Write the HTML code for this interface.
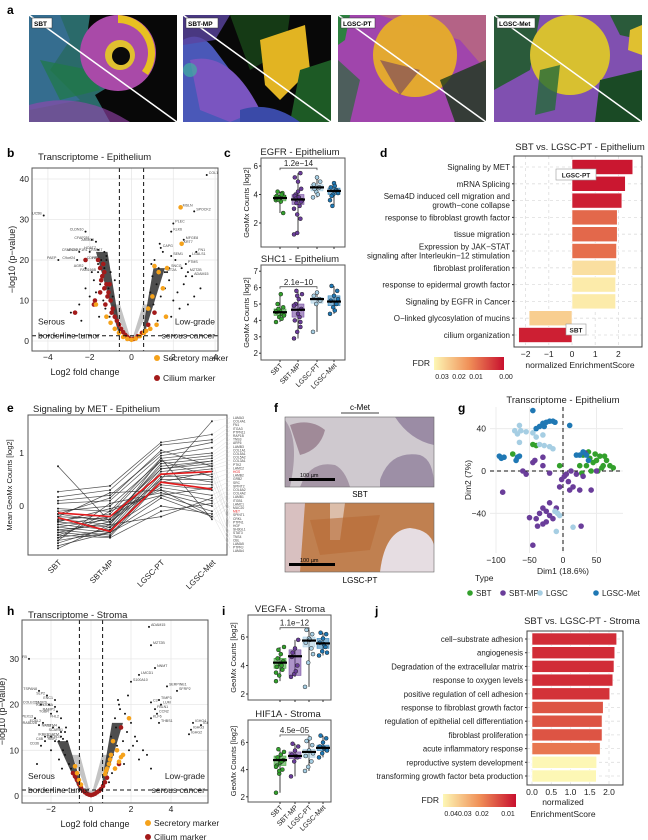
<!DOCTYPE html>
<html><head><meta charset="utf-8">
<style>
html,body{margin:0;padding:0;background:#fff;}
svg{display:block;font-family:"Liberation Sans",Arial,sans-serif;}
</style></head>
<body>
<svg id="fig" width="648" height="840" viewBox="0 0 648 840" xmlns="http://www.w3.org/2000/svg">
<defs>
<linearGradient id="fdrD" x1="0" x2="1" y1="0" y2="0"><stop offset="0" stop-color="#fdf7b5"/><stop offset="0.5" stop-color="#f09058"/><stop offset="1" stop-color="#c8102e"/></linearGradient>
<clipPath id="ca1"><rect x="29" y="15" width="148" height="107"/></clipPath>
<clipPath id="ca2"><rect x="183" y="15" width="148" height="107"/></clipPath>
<clipPath id="ca3"><rect x="338" y="15" width="148" height="107"/></clipPath>
<clipPath id="ca4"><rect x="494" y="15" width="148" height="107"/></clipPath>
<clipPath id="cb"><rect x="32" y="168" width="186" height="183"/></clipPath>
<clipPath id="ch"><rect x="22" y="620" width="186" height="183"/></clipPath>
<clipPath id="cf1"><rect x="285" y="417" width="149" height="70"/></clipPath>
<clipPath id="cf2"><rect x="285" y="503" width="149" height="69"/></clipPath>
</defs>
<g font-weight="bold" font-size="12">
<text x="7" y="14">a</text>
<text x="7" y="157">b</text>
<text x="224" y="157">c</text>
<text x="380" y="157">d</text>
<text x="7" y="412">e</text>
<text x="274" y="412">f</text>
<text x="458" y="412">g</text>
<text x="7" y="615">h</text>
<text x="222" y="615">i</text>
<text x="375" y="615">j</text>
</g>
<g clip-path="url(#ca1)">
<rect x="29" y="15" width="148" height="107" fill="#080808"/>
<path d="M29,15 L90,15 L85,50 L110,60 L120,80 L95,95 L110,122 L29,122Z" fill="#2a6a6a"/>
<path d="M29,15 L60,15 L70,40 L50,70 L80,100 L29,110Z" fill="#3a6fa0" opacity="0.7"/>
<path d="M40,60 L90,70 L100,90 L60,100Z" fill="#1f7a45" opacity="0.7"/>
<circle cx="118" cy="53" r="38" fill="#a94aa8"/>
<path d="M118,15 a38,38 0 0 1 30,60 l-6,-4 a30,30 0 0 0 -24,-48Z" fill="#e8c020"/>
<circle cx="120" cy="55" r="15" fill="#e0c030"/><circle cx="121" cy="56" r="9" fill="#0a0a0a"/>
<path d="M29,105 Q80,90 130,122 L29,122Z" fill="#9a45b0" opacity="0.6"/>
</g>
<g clip-path="url(#ca2)">
<rect x="183" y="15" width="148" height="107" fill="#080808"/>
<path d="M183,40 Q200,30 215,50 L230,70 L240,100 L260,122 L183,122Z" fill="#4a58b8"/>
<path d="M190,60 Q230,50 260,110 L230,122 L200,110Z" fill="#7a55c0"/>
<path d="M230,15 L290,15 L285,50 L250,70Z" fill="#153a15"/>
<path d="M260,40 L305,25 L310,70 L280,100 L265,85Z" fill="#e2b422"/>
<path d="M300,70 L331,60 L331,122 L290,122Z" fill="#1d5a25"/>
<path d="M183,15 L230,15 L215,40 L183,45Z" fill="#5a45a0" opacity="0.8"/>
<circle cx="190" cy="70" r="7" fill="#40b0a0" opacity="0.7"/>
<path d="M240,110 Q270,100 300,122 L240,122Z" fill="#3a4aa8"/>
</g>
<g clip-path="url(#ca3)">
<rect x="338" y="15" width="148" height="107" fill="#8a3a9a"/>
<path d="M338,15 L486,15 L486,122 L338,122Z" fill="#a548b0" opacity="0.8"/>
<circle cx="415" cy="55" r="42" fill="#e3a830"/>
<path d="M373,13 L486,13 L486,70 L460,40Z" fill="#e3a830" opacity="0.3"/>
<path d="M338,60 L360,80 L350,122 L338,122Z" fill="#2a6a3a" opacity="0.7"/>
<path d="M440,80 L486,60 L486,122 L455,122Z" fill="#1a3a1a" opacity="0.8"/>
<path d="M338,15 L350,15 L345,40 L338,45Z" fill="#2d8040"/>
<path d="M380,60 L420,70 L400,95Z" fill="#5a2a6a" opacity="0.5"/>
</g>
<g clip-path="url(#ca4)">
<rect x="494" y="15" width="148" height="107" fill="#8050b0"/>
<path d="M494,15 L540,15 L530,70 L494,90Z" fill="#2a5a3a"/>
<circle cx="570" cy="55" r="40" fill="#d8c030"/>
<path d="M610,15 L642,15 L642,40 L620,35Z" fill="#2a5a3a"/>
<path d="M600,80 L642,70 L642,122 L595,122Z" fill="#1a4a25"/>
<path d="M540,70 L560,65 L555,110 L535,115Z" fill="#246a3a" opacity="0.8"/>
<path d="M630,30 L642,25 L642,55 L628,50Z" fill="#e0c030"/>
</g>
<g stroke="#fff" stroke-width="1.5">
<line x1="29" y1="15" x2="177" y2="122"/><line x1="183" y1="15" x2="331" y2="122"/>
<line x1="338" y1="15" x2="486" y2="122"/><line x1="494" y1="15" x2="642" y2="122"/>
</g>
<g font-size="6.5" font-weight="bold">
<rect x="32" y="18" width="20" height="10" fill="#fff" stroke="#333" stroke-width="0.5"/><text x="34" y="26">SBT</text>
<rect x="186" y="18" width="32" height="10" fill="#fff" stroke="#333" stroke-width="0.5"/><text x="188" y="26">SBT-MP</text>
<rect x="341" y="18" width="34" height="10" fill="#fff" stroke="#333" stroke-width="0.5"/><text x="343" y="26">LGSC-PT</text>
<rect x="497" y="18" width="38" height="10" fill="#fff" stroke="#333" stroke-width="0.5"/><text x="499" y="26">LGSC-Met</text>
</g>
<g font-size="9.5" fill="#222">
<text x="38" y="160">Transcriptome - Epithelium</text>
<text x="580" y="150" text-anchor="middle">SBT vs. LGSC-PT - Epithelium</text>
<text x="33" y="412">Signaling by MET - Epithelium</text>
<text x="563" y="403" text-anchor="middle">Transcriptome - Epithelium</text>
<text x="28" y="618">Transcriptome - Stroma</text>
<text x="582" y="624" text-anchor="middle">SBT vs. LGSC-PT - Stroma</text>
<text x="300" y="155" text-anchor="middle">EGFR - Epithelium</text>
<text x="300" y="262" text-anchor="middle">SHC1 - Epithelium</text>
<text x="290" y="612" text-anchor="middle">VEGFA - Stroma</text>
<text x="288" y="717" text-anchor="middle">HIF1A - Stroma</text>
</g>
<text x="360" y="410" text-anchor="middle" font-size="8">c-Met</text>
<line x1="341" y1="413" x2="379" y2="413" stroke="#000" stroke-width="0.7"/>
<g clip-path="url(#cf1)">
<rect x="285" y="417" width="149" height="70" fill="#cfc9cf"/>
<path d="M285,420 Q300,440 290,487 L285,487Z" fill="#a89aa8"/>
<path d="M290,425 Q310,418 325,430 Q320,450 300,455 Q295,440 290,425Z" fill="#a08a98"/>
<path d="M300,487 Q310,460 335,465 Q345,470 350,487Z" fill="#a596a6"/>
<path d="M380,480 Q390,450 420,455 Q434,460 434,487 L380,487Z" fill="#9d8fa6"/>
<path d="M395,417 L434,417 L434,445 Q410,440 395,417Z" fill="#9b8ca5"/>
<rect x="289" y="478" width="46" height="3" fill="#000"/>
<text x="300" y="477" font-size="5.5">100 µm</text>
</g>
<rect x="285" y="417" width="149" height="70" fill="none" stroke="#666" stroke-width="0.6"/>
<g clip-path="url(#cf2)">
<rect x="285" y="503" width="149" height="69" fill="#c08050"/>
<path d="M285,503 L305,503 L300,572 L285,572Z" fill="#d8c0c0"/>
<path d="M380,572 Q385,530 410,528 Q430,530 434,545 L434,572Z" fill="#e6dde2"/>
<path d="M330,503 L345,503 L340,540 L330,540Z" fill="#e8d8d0" opacity="0.7"/>
<path d="M310,520 L380,515 L370,550 L320,555Z" fill="#b86a35" opacity="0.6"/>
<rect x="289" y="563" width="46" height="3" fill="#000"/>
<text x="300" y="562" font-size="5.5">100 µm</text>
</g>
<rect x="285" y="503" width="149" height="69" fill="none" stroke="#666" stroke-width="0.6"/>
<text x="360" y="497" text-anchor="middle" font-size="8">SBT</text>
<text x="360" y="583" text-anchor="middle" font-size="8">LGSC-PT</text>
</svg>
<script>
// ---------- DATA ----------
const bLabFC = [3.6,-4.2,2.35,3.0,2.0,1.9,2.5,2.4,1.4,1.9,-2.2,-1.9,-1.7,-1.3,-1.6,-2.0,-1.45,-2.5,-1.2,-3.5,-2.6,-2.2,-1.6,3.1,2.8,2.6,2.7,1.8,1.6,2.9];
const bLabP  = [41,31,33,32,29,27,25,24,23,21,27,25,24.5,22,22.5,22,20,22,20,20,20,18,17,22,21,19,17,18,17,16];
const bLabNames = ["COL13A1","MUC5B","MSLN","SPOCK2","PLEC","KLK6","MFGE8","KRT7","CAPG","SEM1","CLDN10","CFAP251","ARMC3","CFAP47","HOATZ","ADCYAP1R1","CDHR3","CFAP157","RSPH1","PAEP","C9orf24","AGR2","FAM166B","FN1","LGALS1","PTMS","MZT2B","SNCG","MT2A","ADAM15"];
const bBlackFC = [-2.9,-2.5,-2.2,-2.0,-1.9,-1.8,-1.7,-1.6,-1.5,-1.4,-1.35,-1.3,-1.25,-1.2,-1.1,-1.05,-1.0,-0.9,-0.8,-2.4,-1.75,-1.55,0.9,1.0,1.05,1.1,1.2,1.3,1.4,1.5,1.6,1.7,1.8,2.0,2.1,2.2,2.3,2.5,2.7,3.0,3.3,1.15,1.25,1.35,2.6,0.95,1.9,2.4];
const bBlackP  = [7,9,13,11,17,15,12,19,14,16,10,18,8,21,13,6,17,11,15,5,9,6,12,16,9,20,14,18,11,22,13,17,15,10,20,12,8,14,9,11,13,7,5,24,16,19,6,18];
const bSecFC = [2.35,2.4,1.1,1.3,1.5,1.65,1.7,1.2,0.9,0.7,0.6,0.4,0.2,0.0,-0.2,-0.4,-0.6,-0.8,-1.0,-1.7,-1.2,1.0,0.8];
const bSecP  = [33,24,18.5,17,13,6,18,4,3,2.5,2,1.2,0.6,0.3,0.5,1.0,2,3,4.5,9,6,11,8];
const bCilFC = [-2.7,-2.2,-1.8,-1.6,-1.5,-1.4,-1.3,-1.2,-1.1,-1.0,-0.9,-0.8,-0.7,-0.6,-0.5,-0.4,-0.3,-0.2,-0.1,0.0,0.1,0.3,0.5,-1.45,-1.3,-1.15,-1.75,-1.5,-1.25,-0.95,-1.05,-1.35,0.8,1.1];
const bCilP  = [7,20,9,20,18,16,17,14,12,10,8,6,5,4,3,2.2,1.5,1,0.6,0.4,0.5,1.2,2,15,13,11,10,12,9,7,14,19,4,7];
const hLabFC = [2.9,3.0,-3.1,3.2,2.0,2.4,3.8,4.3,3.4,3.5,3.0,3.2,3.3,3.0,3.4,5.1,5.5,5.0,4.9,-2.6,-2.2,-1.8,-2.5,-2.1,-1.8,-1.7,-2.8,-2.0,-1.5,-2.4,-2.6,-1.6,-1.3,-1.9,-2.0,-1.5,-1.6,-1.4,-2.3,-2.5];
const hLabP  = [37,33,30,28,25,26.5,24,23,21,20,20.5,19,18,17,16,16,15.5,14.5,13.5,23,22,21,20,20,19.5,18.5,17,18,17,16,15.5,15,14,15,13,13,12,12.5,12,11];
const hLabNames = ["ADAM15","MZT2B","LGR5","NNMT","S100A10","LMCD1","SERPINE1","SFRP2","TIMP3","LUM","C3","FBLN1","CCN2","KLF6","THBS1","IGHG4","IGKC","IGHG3","IGHG2","TSPAN8","SLP2","ENC1","COLEC11","CADPS","KLHDC8A","RAMP1","PEX13","TGBR","FHL2","FOXL2","TRABD2B","VSTM4","SCARB1","NKX3","IKBKB","SATM","RBP1","ENTPD1","C4B","CD36"];
const hBlackFC = [-2.7,-2.3,-2.0,-1.8,-1.6,-1.5,-1.4,-1.3,-1.2,-1.1,-1.0,-0.9,-0.8,1.0,1.1,1.2,1.3,1.4,1.5,1.6,1.7,1.8,1.9,2.0,2.1,2.2,2.4,2.6,2.8,3.0,1.25,1.45,1.65,1.85,2.3,1.05,1.35,0.9,-1.25,-1.45];
const hBlackP  = [7,13,10,12,8,14,10,9,12,7,6,5,4,13,9,17,11,20,15,12,18,14,10,16,11,13,8,10,9,6,15,19,7,22,12,5,21,3,15,6];
const hSecFC = [1.9,1.5,1.4,1.6,1.2,1.0,0.9,0.8,0.75,0.7,-0.7,-0.8,-0.6,-0.5,1.1,1.3,0.95];
const hSecP  = [17,8.5,7.5,9,6,9,7,6,5.5,4.8,5,6.5,3.5,2.5,12,10,8];
const hCilFC = [1.5,1.4,0.8,0.5,0.4,0.3,0.2,0.1,0.0,-0.1,-0.2,-0.3,-0.4,-0.5,-0.6,-0.7,-0.8,0.6,0.7,-0.9];
const hCilP  = [15,7,4,1.5,1.1,0.8,0.5,0.3,0.2,0.3,0.5,0.8,1.2,1.8,2.6,3.5,4.3,2.2,3,5];
const dTerms = ["Signaling by MET","mRNA Splicing","Sema4D induced cell migration and|growth−cone collapse","response to fibroblast growth factor","tissue migration","Expression by JAK−STAT|signaling after Interleukin−12 stimulation","fibroblast proliferation","response to epidermal growth factor","Signaling by EGFR in Cancer","O−linked glycosylation of mucins","cilium organization"];
const dNES = [2.62,2.3,2.15,1.95,1.95,1.92,1.9,1.88,1.88,-1.85,-2.3];
const dFDR = [0.001,0.001,0.002,0.012,0.012,0.013,0.031,0.033,0.033,0.028,0.002];
const dTicks = [-2,-1,0,1,2];
const jTerms = ["cell−substrate adhesion","angiogenesis","Degradation of the extracellular matrix","response to oxygen levels","positive regulation of cell adhesion","response to fibroblast growth factor","regulation of epithelial cell differentiation","fibroblast proliferation","acute inflammatory response","reproductive system development","transforming growth factor beta production"];
const jNES = [2.2,2.15,2.13,2.1,2.02,1.85,1.82,1.82,1.77,1.68,1.67];
const jFDR = [0.005,0.005,0.005,0.005,0.006,0.012,0.012,0.012,0.018,0.045,0.045];
const jTicks = [0,0.5,1,1.5,2];
const eCats = ["SBT","SBT-MP","LGSC-PT","LGSC-Met"];
const eSBT   = [0.75,0.27,0.17,0.1,0.05,-0.05,-0.1,-0.15,-0.2,-0.25,-0.3,-0.35,-0.4,-0.45,-0.5,-0.5,-0.55,-0.6,-0.65,-0.7,-0.75,-0.8,-0.35,-0.28,-0.15,-0.4,-0.6,-0.2,-0.3,-0.45,-0.55,-0.65];
const eSBTMP = [-0.3,0.38,0.3,0.2,0.1,-0.1,0.0,-0.3,-0.25,-0.35,-0.4,-0.45,-0.5,-0.55,-0.58,-0.3,-0.2,-0.1,0.05,-0.4,-0.5,-0.35,-0.2,-0.15,0.15,-0.25,-0.45,0.25,-0.05,-0.35,-0.6,-0.5];
const eLGSCPT= [0.5,1.2,1.15,1.0,0.95,0.9,0.85,0.8,0.75,0.7,0.65,0.6,0.55,0.5,0.45,0.4,0.35,0.3,0.25,0.2,0.15,0.9,0.7,0.85,1.05,0.6,0.45,0.3,0.2,-0.2,-0.1,0.0];
const eMet   = [1.6,1.35,1.25,1.2,1.1,1.0,0.95,0.9,0.85,0.8,0.75,0.7,0.6,0.5,0.4,0.3,0.2,0.1,0.0,-0.1,-0.2,-0.25,0.85,0.55,0.75,0.45,0.65,-0.2,0.35,0.15,0.05,-0.15];
const eRedA = [-0.13,-0.2,0.6,0.65];
const eRedB = [-0.22,-0.48,0.45,0.32];
const eYTicks = [0,1];
const eGenes = ["LAMA3","COL4A1","FN1","ITGA3","PTPN11","RAP1B","TNS3","ARF6","LAMB3","COL1A1","COL5A1","COL5A2","COL3A1","PTK2","LAMC2","HGS","LAMB2","GRB2","SRC","SPINT2","COL6A2","COL4A2","LAMB1","ITGB1","LAMC1","MUC20","MET","SPINT1","CRKL","PTPN1","HGF","SH3GL1","STAT3","TNS4","CBL","LAMA5","PTPRJ","LAMA4"];
const gSbtX=[30,40,45,50,55,60,65,70,75,35,42,52,28,58,38,48,-75,-45,-40,-5,25,62];
const gSbtY=[15,12,8,10,14,5,10,5,3,5,0,0,-2,3,18,16,16,25,24,5,5,14];
const gMpX=[-90,-60,-55,-45,-42,-30,-30,-20,-5,-2,2,5,8,10,15,20,25,30,42,33,-35,-30,-25,-20,-40,-30,-15,-10,-45,-25,-38,-50,-20,27,12,50];
const gMpY=[-20,0,-3,8,10,13,5,-2,-15,-8,-5,-3,-10,-18,-15,-3,-18,-5,-18,17,-40,-35,-38,-42,-45,-50,-45,-35,-70,-48,-52,-44,-30,-52,0,0];
const gLgX=[-72,-68,-63,-55,-45,-40,-65,-35,-28,-20,-15,-30,-8,-5,-12,-10,15,-65];
const gLgY=[38,35,38,37,36,32,27,25,24,23,21,34,-40,-42,-38,-57,-53,43];
const gMetX=[-95,-92,-88,-70,-68,-65,-45,-40,-35,-30,-25,-20,-15,-12,-28,10,25,30,35,38,20];
const gMetY=[14,12,13,10,13,14,57,40,42,45,46,47,47,46,42,43,15,18,15,10,15];
const gXTicks=[-100,-50,0,50];
const gYTicks=[-40,0,40];
const egfrMed=[3.75,3.65,4.5,4.25], egfrQ1=[3.55,3.3,4.25,4.0], egfrQ3=[3.95,4.0,4.7,4.45];
const egfrPts=[[3.6,3.8,4.1,3.9,3.7,2.7,4.2,3.5,3.85,3.65,4.0,3.75],[1.2,1.3,5.5,5.2,4.9,4.4,4.0,3.8,3.6,3.4,3.2,3.0,2.6,2.3,3.9,4.2,3.5,3.7],[3.8,4.2,4.5,4.7,5.2,4.9,4.4,4.0],[3.6,4.0,4.3,4.5,4.8,4.2,3.9,4.6,4.1,3.2]];
const shcMed=[4.5,4.65,5.3,5.15], shcQ1=[4.3,4.2,5.05,4.9], shcQ3=[4.7,5.0,5.4,5.5];
const shcPts=[[3.9,4.2,4.4,4.5,4.6,4.8,5.0,5.6,4.3,4.7,4.1,4.55],[2.9,3.3,3.6,4.0,4.4,4.7,5.0,5.3,5.6,5.8,4.2,4.9,5.5,3.9],[3.3,5.0,5.3,5.5,5.7,5.2],[4.4,4.8,5.0,5.2,5.5,5.8,6.1,4.6,5.3]];
const vegMed=[4.2,4.65,5.75,5.55], vegQ1=[3.8,3.3,5.3,5.2], vegQ3=[4.5,5.1,6.0,5.9];
const vegPts=[[2.9,3.3,3.7,3.9,4.1,4.3,4.5,4.8,5.3,5.1,4.0,3.5],[3.2,3.4,4.0,4.6,5.2,5.8,4.9,3.6],[2.5,4.2,5.2,5.6,5.9,6.2,6.5,5.8,4.8],[4.7,5.0,5.3,5.6,5.9,6.2,6.3,5.5,4.9]];
const hifMed=[4.7,5.0,5.3,5.6], hifQ1=[4.3,4.8,4.9,5.4], hifQ3=[5.0,5.3,5.5,5.8];
const hifPts=[[2.3,3.7,4.0,4.3,4.5,4.7,4.9,5.1,5.3,5.5,4.6,4.2,3.9],[3.5,4.6,4.9,5.1,5.4,5.7,5.9,5.0],[3.9,4.2,4.6,5.0,5.4,5.8,6.1,6.3,5.2],[4.9,5.2,5.5,5.7,6.0,6.3,6.5,5.6,5.4]];
const boxCats=["SBT","SBT-MP","LGSC-PT","LGSC-Met"];
const boxColors=["#33a02c","#6a3d9a","#a6cee3","#1f78b4"];

// ---------- DRAW ----------
const NS="http://www.w3.org/2000/svg";
const svg=document.getElementById('fig');
function mk(tag,attrs,parent){const e=document.createElementNS(NS,tag);for(const k in attrs)e.setAttribute(k,attrs[k]);(parent||svg).appendChild(e);return e;}
function tx(x,y,s,size,anchor,parent,extra){const e=mk('text',Object.assign({x:x,y:y,'font-size':size,'text-anchor':anchor||'start',fill:'#222'},extra||{}),parent);e.textContent=s;return e;}

function volcano(o){
  const g=mk('g',{});
  
  
  const X=v=>o.x0+v*o.sx, Y=v=>o.y0-v*o.sy;
  const bg=mk('rect',{x:o.L,y:o.T,width:o.R-o.L,height:o.B-o.T,fill:'#fff'},g);
  
  
  o.xt.forEach(v=>{const l=mk('line',{x1:X(v),x2:X(v),y1:o.T,y2:o.B,stroke:'#e8e8e8','stroke-width':0.8},g);
    
    
    const t=tx(X(v),o.B+9,(v<0?'−':'')+Math.abs(v),8.5,'middle',g);
    
    });
  o.yt.forEach(v=>{const l=mk('line',{x1:o.L,x2:o.R,y1:Y(v),y2:Y(v),stroke:'#e8e8e8','stroke-width':0.8},g);
    
    
    const t=tx(o.L-3,Y(v)+3,String(v),8.5,'end',g);
    
    });
  const c=mk('g',{'clip-path':'url(#'+o.clip+')'},g);
  const cloud=mk('path',{d:`M${X(-0.95)},${Y(9)} L${X(-0.25)},${Y(1.5)} L${X(0)},${Y(0)} L${X(0.25)},${Y(1.5)} L${X(0.95)},${Y(9)} L${X(0.55)},${Y(9)} L${X(0.08)},${Y(1.2)} L${X(-0.08)},${Y(1.2)} L${X(-0.55)},${Y(9)}Z`,fill:'#c4c4c4'},c);
  
  
  const d1=mk('path',{d:`M${X(-0.6)},${Y(1.5)} L${X(-1.7)},${Y(o.lh)} L${X(-1.15)},${Y(o.lh)} L${X(-0.58)},${Y(4)}Z`,fill:'#222',opacity:0.8},c);
  
  
  const d2=mk('path',{d:`M${X(0.6)},${Y(1.5)} L${X(1.6)},${Y(o.rh)} L${X(1.05)},${Y(o.rh)} L${X(0.58)},${Y(4)}Z`,fill:'#222',opacity:0.8},c);
  
  
  o.bfc.forEach((v,i)=>{const p=mk('circle',{cx:X(v),cy:Y(o.bp[i]),r:1,fill:'#111'},c);
    
    });
  o.lfc.forEach((v,i)=>{const p=mk('circle',{cx:X(v),cy:Y(o.lp[i]),r:1,fill:'#111'},c);
    
    
    const t=tx(X(v)+(v<0?-2:2),Y(o.lp[i])-1,o.ln[i],3.6,v<0?'end':'start',c,{fill:'#444'});
    
    });
  o.cfc.forEach((v,i)=>{const p=mk('circle',{cx:X(v),cy:Y(o.cp[i]),r:2.3,fill:'#a31a1a'},c);
    
    });
  o.sfc.forEach((v,i)=>{const p=mk('circle',{cx:X(v),cy:Y(o.sp[i]),r:2.3,fill:'#f5a21b'},c);
    
    });
  [-0.58,0.58].forEach(v=>{const l=mk('line',{x1:X(v),x2:X(v),y1:o.T,y2:o.B,stroke:'#111','stroke-width':1,'stroke-dasharray':'4,3'},g);
    
    });
  const hl=mk('line',{x1:o.L,x2:o.R,y1:Y(1.3),y2:Y(1.3),stroke:'#111','stroke-width':1,'stroke-dasharray':'4,3'},g);
  
  
  const fr=mk('rect',{x:o.L,y:o.T,width:o.R-o.L,height:o.B-o.T,fill:'none',stroke:'#555','stroke-width':1},g);
  
  
  let t;
  t=tx(o.L+6,Y(1.3)-11,'Serous',8.5,'start',g);  
  t=tx(o.L+6,Y(1.3)+3,'borderline tumor',8.5,'start',g);  
  t=tx(o.R-3,Y(1.3)-11,'Low-grade',8.5,'end',g);  
  t=tx(o.R-3,Y(1.3)+3,'serous cancer',8.5,'end',g);  
  t=tx(o.xlx,o.B+24,'Log2 fold change',9,'middle',g);  
  t=tx(0,0,'−log10 (p−value)',9,'middle',g,{transform:`translate(${o.L-17},${(o.T+o.B)/2}) rotate(-90)`});  
  let p=mk('circle',{cx:o.legx,cy:o.legy,r:3,fill:'#f5a21b'},g);  
  t=tx(o.legx+6,o.legy+3,'Secretory marker',8.5,'start',g);  
  p=mk('circle',{cx:o.legx,cy:o.legy+o.legdy,r:3,fill:'#a31a1a'},g);  
  t=tx(o.legx+6,o.legy+o.legdy+3,'Cilium marker',8.5,'start',g);  
}
volcano({name:'volcano-epithelium',L:32,R:218,T:168,B:351,x0:131.5,sx:20.9,y0:341,sy:4.05,xt:[-4,-2,0,2,4],yt:[0,10,20,30,40],clip:'cb',
 bfc:bBlackFC,bp:bBlackP,lfc:bLabFC,lp:bLabP,ln:bLabNames,sfc:bSecFC,sp:bSecP,cfc:bCilFC,cp:bCilP,lh:22,rh:18,xlx:85,legx:157,legy:358,legdy:20});
volcano({name:'volcano-stroma',L:22,R:208,T:620,B:803,x0:91,sx:20,y0:796,sy:4.57,xt:[-2,0,2,4],yt:[0,10,20,30],clip:'ch',
 bfc:hBlackFC,bp:hBlackP,lfc:hLabFC,lp:hLabP,ln:hLabNames,sfc:hSecFC,sp:hSecP,cfc:hCilFC,cp:hCilP,lh:12,rh:16,xlx:95,legx:148,legy:823,legdy:14});

function boxplot(o){
  const g=mk('g',{});
  
  
  const Y=v=>o.y0-v*o.sy;
  const bg=mk('rect',{x:o.L,y:o.T,width:o.R-o.L,height:o.B-o.T,fill:'#fff',stroke:'#555','stroke-width':1},g);
  
  
  o.yt.forEach(v=>{const l=mk('line',{x1:o.L-2,x2:o.L,y1:Y(v),y2:Y(v),stroke:'#333'},g);
    
    
    const t=tx(o.L-3,Y(v)+3,String(v),8,'end',g);
    
    });
  o.cx.forEach((x,i)=>{
    const col=boxColors[i];
    const pts=o.pts[i];
    const lo=Math.min(...pts), hi=Math.max(...pts);
    const w=mk('line',{x1:x,x2:x,y1:Y(hi),y2:Y(lo),stroke:'#111','stroke-width':0.8},g);
    
    
    const b=mk('rect',{x:x-6,y:Y(o.q3[i]),width:12,height:Y(o.q1[i])-Y(o.q3[i]),fill:col,'fill-opacity':0.55,stroke:col,'stroke-width':0.5},g);
    
    
    pts.forEach((v,k)=>{const jx=((k*37)%11-5)*0.8;
      const p=mk('circle',{cx:x+jx,cy:Y(v),r:2,fill:col,stroke:'#222','stroke-width':0.5},g);
      
      });
    const m=mk('line',{x1:x-7,x2:x+7,y1:Y(o.med[i]),y2:Y(o.med[i]),stroke:'#000','stroke-width':2.2},g);
    
    
    const tk=mk('line',{x1:x,x2:x,y1:o.B,y2:o.B+2,stroke:'#333'},g);
    
    
    if(o.xlab){const t=tx(0,0,boxCats[i],7,'end',g,{transform:`translate(${x+3},${o.B+6}) rotate(-45)`});
      
      }
  });
  const sy=Y(o.sig);
  const s=mk('path',{d:`M${o.cx[0]},${sy+2} V${sy} H${o.cx[2]} V${sy+2}`,fill:'none',stroke:'#333','stroke-width':0.7},g);
  
  
  const st=tx((o.cx[0]+o.cx[2])/2,sy-2,o.sigText,8,'middle',g);
  
  
  const yl=tx(0,0,'GeoMx Counts [log2]',7.5,'middle',g,{transform:`translate(${o.L-12},${(o.T+o.B)/2}) rotate(-90)`});
  
  
}
boxplot({name:'boxplot-egfr',L:261,R:345,T:158,B:247,y0:251.5,sy:14.25,yt:[2,4,6],cx:[280,298,317,334],med:egfrMed,q1:egfrQ1,q3:egfrQ3,pts:egfrPts,sig:5.85,sigText:'1.2e−14',xlab:false});
boxplot({name:'boxplot-shc1',L:261,R:345,T:265,B:360,y0:386,sy:16.4,yt:[2,3,4,5,6,7],cx:[280,298,317,334],med:shcMed,q1:shcQ1,q3:shcQ3,pts:shcPts,sig:6.05,sigText:'2.1e−10',xlab:true});
boxplot({name:'boxplot-vegfa',L:248,R:331,T:615,B:700,y0:722.5,sy:14.25,yt:[2,4,6],cx:[280,295,309,323],med:vegMed,q1:vegQ1,q3:vegQ3,pts:vegPts,sig:6.65,sigText:'1.1e−12',xlab:false});
boxplot({name:'boxplot-hif1a',L:248,R:331,T:720,B:802,y0:824,sy:13.6,yt:[2,4,6],cx:[280,295,309,323],med:hifMed,q1:hifQ1,q3:hifQ3,pts:hifPts,sig:6.55,sigText:'4.5e−05',xlab:true});

function fdrColor(f,maxF){const t=Math.min(1,f/maxF);
  const a=[200,16,46],m=[240,144,88],b=[253,247,181];let c;
  if(t<0.5){const u=t/0.5;c=a.map((v,i)=>Math.round(v+(m[i]-v)*u));}else{const u=(t-0.5)/0.5;c=m.map((v,i)=>Math.round(v+(b[i]-v)*u));}
  return `rgb(${c[0]},${c[1]},${c[2]})`;}
function bars(o){
  const g=mk('g',{});
  
  
  const X=v=>o.x0+v*o.sx;
  const bg=mk('rect',{x:o.L,y:o.T,width:o.R-o.L,height:o.B-o.T,fill:'#fff'},g);
  
  
  o.ticks.forEach(v=>{const l=mk('line',{x1:X(v),x2:X(v),y1:o.T,y2:o.B,stroke:'#ddd','stroke-dasharray':'3,3','stroke-width':0.8},g);
    
    
    const t=tx(X(v),o.B+10,(v<0?'−':'')+(o.dec?Math.abs(v).toFixed(1):Math.abs(v)),8.5,'middle',g);
    
    });
  o.terms.forEach((term,i)=>{const cy=o.r0+i*o.dr;
    const gl=mk('line',{x1:o.L,x2:o.R,y1:cy,y2:cy,stroke:'#ddd','stroke-dasharray':'3,3','stroke-width':0.8},g);
    
    
    const v=o.nes[i];
    const b=mk('rect',{x:Math.min(X(0),X(v)),y:cy-o.bh/2,width:Math.abs(X(v)-X(0)),height:o.bh,fill:fdrColor(o.fdr[i],o.maxF),stroke:'#fff','stroke-width':0.6},g);
    
    
    const parts=term.split('|');
    parts.forEach((p,k)=>{const t=tx(o.L-4,cy+3+(k-(parts.length-1)/2)*9,p,o.fs,'end',g);
      
      });
    const tk=mk('line',{x1:o.L-2,x2:o.L,y1:cy,y2:cy,stroke:'#333'},g);
    
    
  });
  const fr=mk('rect',{x:o.L,y:o.T,width:o.R-o.L,height:o.B-o.T,fill:'none',stroke:'#444','stroke-width':1},g);
  
  
}
bars({name:'enrichment-epithelium',L:514,R:642,T:156,B:347,x0:572,sx:23.2,ticks:dTicks,terms:dTerms,nes:dNES,fdr:dFDR,maxF:0.035,r0:167,dr:16.8,bh:15,fs:8,dec:false});
bars({name:'enrichment-stroma',L:527,R:623,T:631,B:785,x0:532,sx:38.5,ticks:jTicks,terms:jTerms,nes:jNES,fdr:jFDR,maxF:0.045,r0:639,dr:13.7,bh:12,fs:7.8,dec:true});
let lb=mk('rect',{x:556,y:169,width:40,height:11,fill:'#fff',stroke:'#999','stroke-width':0.6});


let lt=tx(576,177.5,'LGSC-PT',6.5,'middle',svg,{'font-weight':'bold'});


lb=mk('rect',{x:566,y:324,width:20,height:11,fill:'#fff',stroke:'#999','stroke-width':0.6});


lt=tx(576,332.5,'SBT',6.5,'middle',svg,{'font-weight':'bold'});


function fdrLegend(x,y,w,labels,lx,nx,ny,two){
  let e=tx(x-4,y+9,'FDR',8.5,'end');
  
  
  e=mk('rect',{x:x,y:y,width:w,height:13,fill:'url(#fdrD)'});
  
  
  labels.forEach((s,i)=>{const t=tx(lx[i],y+22,s,7,'middle');
    
    });
  if(two){e=tx(nx,ny,'normalized',8.5,'middle');
    e=tx(nx,ny+12,'EnrichmentScore',8.5,'middle');}
  else{e=tx(nx,ny,'normalized EnrichmentScore',8.5,'middle');}
}
fdrLegend(434,357,70,['0.03','0.02','0.01','0.00'],[442,459,476,506],580,368,false);
fdrLegend(443,794,73,['0.040.03','0.02','0.01'],[458,482,508],563,805,true);

(function(){
  const g=mk('g',{});
  
  
  const L=28,R=227,T=415,B=555;
  const xs=[58,110,161,212];
  const Y=v=>506-v*53;
  const fr=mk('rect',{x:L,y:T,width:R-L,height:B-T,fill:'#fff',stroke:'#555','stroke-width':1},g);
  
  
  eYTicks.forEach(v=>{const t=tx(L-4,Y(v)+3,String(v),8.5,'end',g);
    
    });
  eCats.forEach((c,i)=>{const t=tx(0,0,c,8,'end',g,{transform:`translate(${xs[i]+4},${B+8}) rotate(-45)`});
    
    });
  eSBT.forEach((v,i)=>{const vals=[v,eSBTMP[i],eLGSCPT[i],eMet[i]];
    const pl=mk('polyline',{points:vals.map((u,k)=>xs[k]+','+Y(u)).join(' '),fill:'none',stroke:'#333','stroke-width':0.7,opacity:0.85},g);
    
    
    vals.forEach((u,k)=>{const p=mk('circle',{cx:xs[k],cy:Y(u),r:1,fill:'#222'},g);
      
      });
    const ld=mk('line',{x1:xs[3],y1:Y(eMet[i]),x2:230,y2:418+i*4.2,stroke:'#ccc','stroke-width':0.3},g);
    
    
  });
  [eRedA,eRedB].forEach(vals=>{const pl=mk('polyline',{points:vals.map((u,k)=>xs[k]+','+Y(u)).join(' '),fill:'none',stroke:'#e41a1c','stroke-width':1.6},g);
    
    });
  eGenes.forEach((n,i)=>{const t=tx(233,419+i*3.6,n,3.3,'start',g,{fill:(n==='HGS'||n==='MET')?'#e41a1c':'#444'});
    
    });
  const yl=tx(0,0,'Mean GeoMx Counts [log2]',7.5,'middle',g,{transform:`translate(12,485) rotate(-90)`});
  
  
})();

(function(){
  const g=mk('g',{});
  
  
  const L=490,R=623,T=407,B=553;
  const X=v=>563+v*0.67, Y=v=>471-v*1.06;
  gXTicks.forEach(v=>{const l=mk('line',{x1:X(v),x2:X(v),y1:T,y2:B,stroke:'#ececec'},g);
    
    
    const t=tx(X(v),B+10,(v<0?'−':'')+Math.abs(v),8.5,'middle',g);
    
    });
  gYTicks.forEach(v=>{const l=mk('line',{x1:L,x2:R,y1:Y(v),y2:Y(v),stroke:'#ececec'},g);
    
    
    const t=tx(L-4,Y(v)+3,(v<0?'−':'')+Math.abs(v),8.5,'end',g);
    
    });
  let l=mk('line',{x1:L,x2:R,y1:Y(0),y2:Y(0),stroke:'#111','stroke-dasharray':'4,3'},g);
  
  
  l=mk('line',{x1:X(0),x2:X(0),y1:T,y2:B,stroke:'#111','stroke-dasharray':'4,3'},g);
  
  
  const groups=[[gSbtX,gSbtY,'#33a02c','sbt'],[gMpX,gMpY,'#6a3d9a','sbt-mp'],[gLgX,gLgY,'#a6cee3','lgsc'],[gMetX,gMetY,'#1f78b4','lgsc-met']];
  groups.forEach(gr=>{gr[0].forEach((v,i)=>{const p=mk('circle',{cx:X(v),cy:Y(gr[1][i]),r:2.8,fill:gr[2]},g);
    
    });});
  let t=tx(563,574,'Dim1 (18.6%)',8.5,'middle',g);
  
  
  t=tx(0,0,'Dim2 (7%)',8.5,'middle',g,{transform:'translate(471,480) rotate(-90)'});
  
  
  t=tx(475,581,'Type',8.5,'start',g);
  
  
  const leg=[[470,'SBT','#33a02c'],[503,'SBT-MP','#6a3d9a'],[540,'LGSC','#a6cee3'],[596,'LGSC-Met','#1f78b4']];
  leg.forEach(e=>{const p=mk('circle',{cx:e[0],cy:593,r:2.8,fill:e[2]},g);
    
    
    const q=tx(e[0]+6,596,e[1],8,'start',g);
    
    });
})();
</script>
</body></html>
